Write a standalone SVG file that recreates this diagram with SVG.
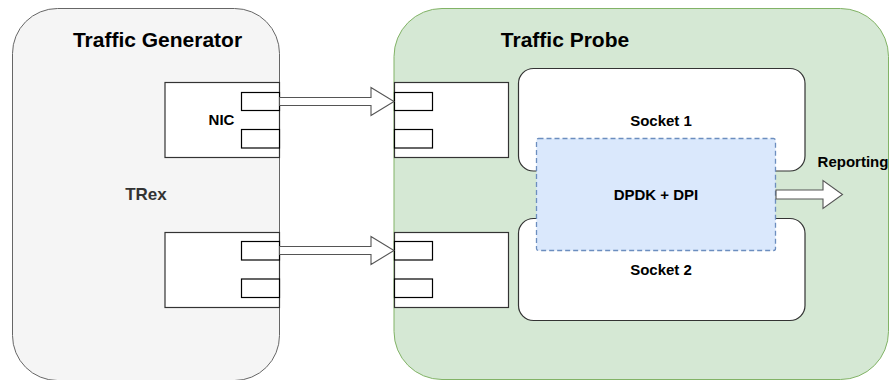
<svg xmlns="http://www.w3.org/2000/svg" width="889" height="380" viewBox="0 0 889 380">
  <defs>
    <style>
      text { font-family: "Liberation Sans", Arial, sans-serif; font-weight: bold; text-anchor: middle; fill: #000; }
      .title { font-size: 21px; }
      .lbl { font-size: 15px; }
      .trex { font-size: 17px; fill: #333; }
      .gen { fill: #f5f5f5; stroke: #666; stroke-width: 1; }
      .probe { fill: #d5e8d4; stroke: #82b366; stroke-width: 1; }
      .nic { fill: #fff; stroke: #333; stroke-width: 1.2; }
      .port { fill: #fff; stroke: #000; stroke-width: 1.2; }
      .socket { fill: #fff; stroke: #333; stroke-width: 1.2; }
      .dpdk { fill: #dae8fc; stroke: #6c8ebf; stroke-width: 1.3; stroke-dasharray: 5 3; }
      .flow { fill: #fff; stroke: #555; stroke-width: 1.1; stroke-linejoin: miter; }
    </style>
  </defs>

  <!-- Traffic generator host -->
  <g id="traffic-generator">
    <rect class="gen" x="12.5" y="8.5" width="267" height="372" rx="45" ry="45"/>
    <text class="title" x="157.5" y="47">Traffic Generator</text>
    <text class="trex" x="146" y="200">TRex</text>
  </g>

  <!-- Traffic probe host -->
  <g id="traffic-probe">
    <rect class="probe" x="394" y="8.5" width="494.5" height="371" rx="48" ry="48"/>
    <text class="title" x="565" y="47">Traffic Probe</text>
  </g>

  <!-- Generator NICs -->
  <g id="gen-nic-1">
    <rect class="nic" x="165" y="82.5" width="114.5" height="75"/>
    <rect class="port" x="241.5" y="92.5" width="38" height="18"/>
    <rect class="port" x="241.5" y="129.5" width="38" height="18.5"/>
    <text class="lbl" x="221.5" y="125">NIC</text>
  </g>
  <g id="gen-nic-2">
    <rect class="nic" x="165" y="232.5" width="114.5" height="75"/>
    <rect class="port" x="241.5" y="241.5" width="38" height="18.5"/>
    <rect class="port" x="241.5" y="279" width="38" height="18.5"/>
  </g>

  <!-- Probe NICs -->
  <g id="probe-nic-1">
    <rect class="nic" x="394.5" y="82.5" width="114" height="75"/>
    <rect class="port" x="394.5" y="92.5" width="38" height="18"/>
    <rect class="port" x="394.5" y="129.5" width="38" height="18.5"/>
  </g>
  <g id="probe-nic-2">
    <rect class="nic" x="394.5" y="232.5" width="114" height="75"/>
    <rect class="port" x="394.5" y="241.5" width="38" height="18.5"/>
    <rect class="port" x="394.5" y="279" width="38" height="18.5"/>
  </g>

  <!-- CPU sockets -->
  <g id="socket-1">
    <rect class="socket" x="518.5" y="68.5" width="286.5" height="102.5" rx="15" ry="15"/>
    <text class="lbl" x="661" y="125.5">Socket 1</text>
  </g>
  <g id="socket-2">
    <rect class="socket" x="518.5" y="218.5" width="286.5" height="102" rx="15" ry="15"/>
    <text class="lbl" x="661" y="275">Socket 2</text>
  </g>

  <!-- Packet processing layer spanning both sockets -->
  <g id="dpdk-dpi">
    <rect class="dpdk" x="536.5" y="138.5" width="239" height="112" rx="2" ry="2"/>
    <text class="lbl" x="656" y="200">DPDK + DPI</text>
  </g>

  <g id="reporting">
    <text class="lbl" x="853" y="167">Reporting</text>
  </g>

  <!-- Connectors: wide outlined flow arrows -->
  <g id="connectors">
    <polygon class="flow" points="279.5,97.5 371,97.5 371,87.5 394,101.5 371,115.5 371,105.5 279.5,105.5"/>
    <polygon class="flow" points="279.5,246.5 371,246.5 371,236.5 394,250.5 371,264.5 371,254.5 279.5,254.5"/>
    <polygon class="flow" points="776,190 823,190 823,180.5 842.5,194.5 823,208.5 823,199 776,199"/>
  </g>
</svg>
